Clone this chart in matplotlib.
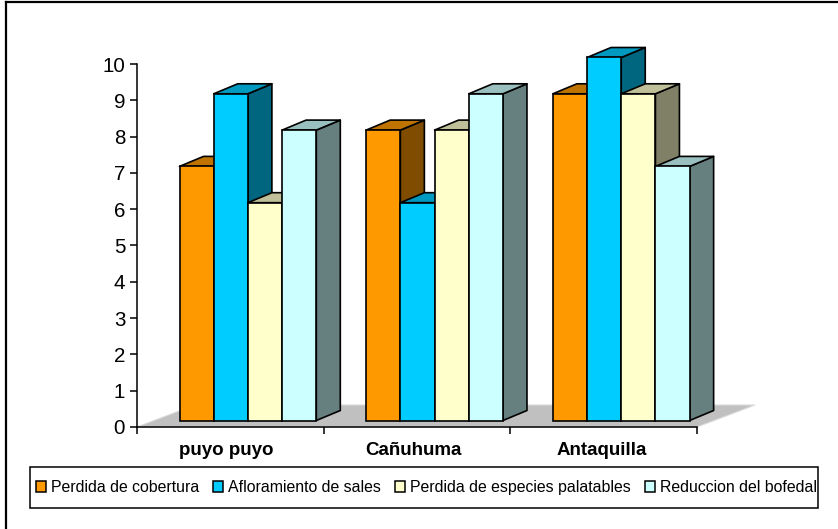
import matplotlib
matplotlib.use("Agg")
import matplotlib.pyplot as plt
from matplotlib.lines import Line2D
from matplotlib.patches import Patch, Polygon, Rectangle

plt.rcParams['font.family'] = ['Liberation Sans', 'DejaVu Sans']

sites = ["puyo puyo", "Cañuhuma", "Antaquilla"]
series_names = ["Perdida de cobertura", "Afloramiento de sales",
                "Perdida de especies palatables", "Reduccion del bofedal"]
cobertura = [7, 8, 9]
sales = [9, 6, 10]
especies = [6, 8, 9]
bofedal = [8, 9, 7]
series_values = [cobertura, sales, especies, bofedal]

front_colors = ["#FF9900", "#00CCFF", "#FFFFCC", "#CCFFFF"]
top_colors = ["#BF7300", "#0099BF", "#BFBF99", "#99BFBF"]
side_colors = ["#804D00", "#006680", "#808066", "#668080"]

W, H = 838, 529
LEFT, RIGHT, TOP, BOTTOM = 137, 697, 64, 427

fig = plt.figure(figsize=(W / 100, H / 100), dpi=100)
ax = fig.add_axes([LEFT / W, 1 - BOTTOM / H, (RIGHT - LEFT) / W, (BOTTOM - TOP) / H])
ax.set_xlim(0, 3)
ax.set_ylim(0, 10)
ax.patch.set_visible(False)

# pixel sizes turned into data units for the fake 3d depth
px_x = 3 / (RIGHT - LEFT)
px_y = 10 / (BOTTOM - TOP)
depth_x, depth_y = 24 * px_x, 10 * px_y
floor_x, floor_y = 58 * px_x, 22 * px_y
lift_x, lift_y = 17.5 * px_x, 6.5 * px_y
bar_w = 34.2 * px_x
gap = 25 * px_x

# floor
ax.add_patch(Polygon([(0, 0), (3, 0), (3 + floor_x, floor_y), (floor_x, floor_y)],
                     closed=True, facecolor="#C0C0C0", edgecolor="#DADADA",
                     linewidth=0.8, clip_on=False, zorder=1))

z = 2
for i in range(len(sites)):
    for j, values in enumerate(series_values):
        v = values[i]
        x0 = i + gap + lift_x + j * bar_w
        x1 = x0 + bar_w
        y0 = lift_y
        y1 = lift_y + v
        ax.fill([x1, x1 + depth_x, x1 + depth_x, x1],
                [y0, y0 + depth_y, y1 + depth_y, y1],
                facecolor=side_colors[j], edgecolor="black", linewidth=1.2,
                joinstyle="round", clip_on=False, zorder=z)
        ax.fill([x0, x1, x1 + depth_x, x0 + depth_x],
                [y1, y1, y1 + depth_y, y1 + depth_y],
                facecolor=top_colors[j], edgecolor="black", linewidth=1.2,
                joinstyle="round", clip_on=False, zorder=z)
        ax.bar(x0, v, bar_w, bottom=y0, align="edge", color=front_colors[j],
               edgecolor="black", linewidth=1.2, clip_on=False, zorder=z)
        z += 1

ax.spines["top"].set_visible(False)
ax.spines["right"].set_visible(False)
ax.spines["left"].set_linewidth(1.1)
ax.spines["bottom"].set_linewidth(1.1)

ax.set_yticks(range(0, 11))
ax.tick_params(axis="y", length=5, width=1.1, labelsize=14.8, pad=3.5, colors="black")
ax.set_xticks([0, 1, 2, 3])
ax.set_xticklabels([])
ax.tick_params(axis="x", which="major", length=5, width=1.1)
# labels sit a little left of the group centres
ax.set_xticks([0.48, 1.48, 2.49], minor=True)
ax.set_xticklabels(sites, minor=True, fontweight="bold", fontsize=13.5)
ax.tick_params(axis="x", which="minor", length=0, pad=10.5)

# legend box is drawn by hand, its height does not follow the text
fig.add_artist(Rectangle((30 / W, 1 - 508 / H), 788 / W, 41 / H, transform=fig.transFigure,
                         facecolor="white", edgecolor="black", linewidth=1.1))
handles = [Patch(facecolor=c, edgecolor="black", linewidth=1.1) for c in front_colors]
leg = fig.legend(handles, series_names, ncol=4, loc="center left",
                 bbox_to_anchor=(36 / W, 1 - 487.5 / H),
                 fontsize=11.4, frameon=False, borderpad=0, borderaxespad=0,
                 handlelength=0.63, handleheight=0.63, handletextpad=0.31,
                 columnspacing=0.9)

# outer frame is only visible on the left and top
fig.add_artist(Line2D([6 / W, 6 / W], [0, 1 - 2 / H], color="black", linewidth=1.6))
fig.add_artist(Line2D([6 / W, 1], [1 - 2 / H, 1 - 2 / H], color="black", linewidth=1.6))

fig.savefig("out.png", dpi=100)
